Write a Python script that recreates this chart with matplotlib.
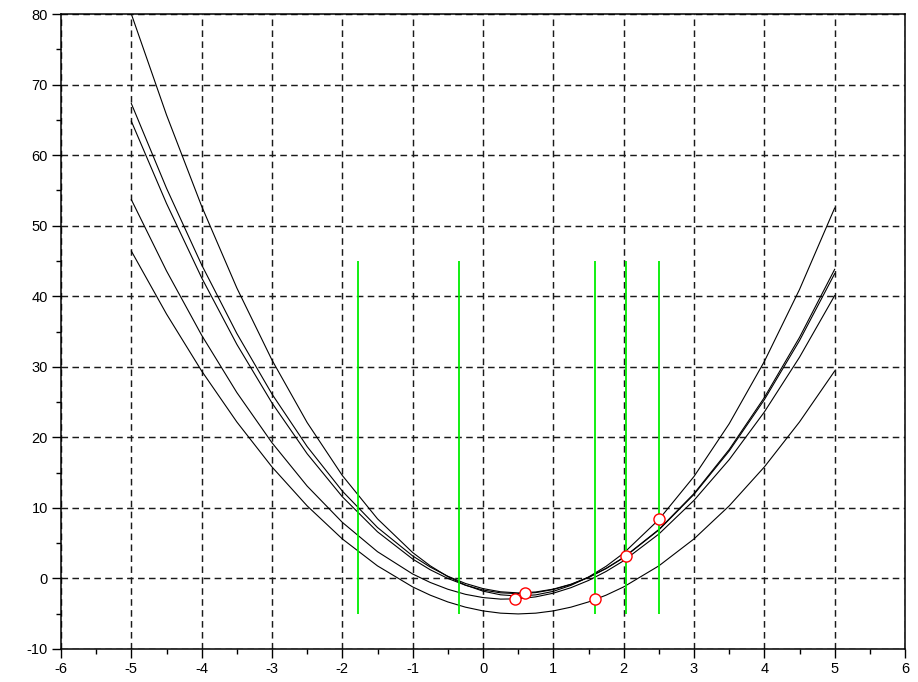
import numpy as np
import matplotlib
matplotlib.use("Agg")
import matplotlib.pyplot as plt
from matplotlib.ticker import MultipleLocator

plt.rcParams['font.family'] = ['Liberation Sans', 'DejaVu Sans']
plt.rcParams['axes.unicode_minus'] = False

# abscisses communes des cinq paraboles (plus serrees pres du minimum)
x = [-5.0, -4.5, -4.0, -3.5, -3.0, -2.5, -2.0, -1.5, -1.0, -0.75, -0.5, -0.25, 0.0,
     0.25, 0.5, 0.75, 1.0, 1.25, 1.5, 1.75, 2.0, 2.5, 3.0, 3.5, 4.0, 4.5, 5.0]

courbe_a = [80.0, 65.70, 52.75, 41.17, 30.95, 22.09, 14.59, 8.45, 3.67, 1.79, 0.26, -0.94, -1.80,
            -2.32, -2.49, -2.33, -1.83, -0.98, 0.20, 1.72, 3.59, 8.34, 14.45, 21.92, 30.75, 40.95, 52.5]
courbe_b = [67.31, 55.31, 44.44, 34.72, 26.13, 18.69, 12.38, 7.22, 3.19, 1.61, 0.31, -0.71, -1.44,
            -1.89, -2.05, -1.92, -1.51, -0.82, 0.17, 1.43, 2.98, 6.94, 12.03, 18.27, 25.64, 34.16, 43.81]
courbe_c = [64.80, 53.15, 42.61, 33.18, 24.87, 17.67, 11.58, 6.61, 2.75, 1.23, 0.00, -0.96, -1.64,
            -2.04, -2.16, -2.01, -1.57, -0.86, 0.13, 1.40, 2.94, 6.87, 11.91, 18.06, 25.33, 33.71, 43.20]
courbe_d = [53.69, 43.59, 34.47, 26.35, 19.23, 13.09, 7.95, 3.79, 0.63, -0.57, -1.53, -2.25, -2.71,
            -2.93, -2.89, -2.61, -2.09, -1.31, -0.29, 0.99, 2.51, 6.29, 11.07, 16.83, 23.59, 31.35, 40.09]
courbe_e = [46.4, 37.48, 29.4, 22.18, 15.8, 10.28, 5.6, 1.78, -1.2, -2.37, -3.33, -4.07, -4.6,
            -4.92, -5.03, -4.92, -4.6, -4.07, -3.33, -2.37, -1.2, 1.78, 5.6, 10.28, 15.8, 22.18, 29.4]

# droites verticales vertes (de -5 a 45)
x_vert = [-1.777, -0.341, 1.592, 2.033, 2.507]
y_vert_bas, y_vert_haut = -5, 45

# points rouges
x_pts = [0.455, 0.597, 1.592, 2.033, 2.507]
y_pts = [-2.92, -2.02, -2.92, 3.17, 8.42]

fig = plt.figure(figsize=(9.18, 6.82), dpi=100)
ax = fig.add_axes([61/918, 1-649/682, (905-61)/918, (649-14)/682])

ax.grid(True, which='major', color='#1a1a1a', linestyle=(0, (4.5, 3)), linewidth=1.05, zorder=0)
ax.set_axisbelow(True)

for c in [courbe_a, courbe_b, courbe_c, courbe_d, courbe_e]:
    ax.plot(x, c, color='black', linewidth=0.8, zorder=2)

ax.vlines(x_vert, y_vert_bas, y_vert_haut, colors='#00ee00', linewidth=1.3, zorder=3)
ax.plot(x_pts, y_pts, linestyle='none', marker='o', markersize=8,
        markerfacecolor='white', markeredgecolor='red', markeredgewidth=1.0, zorder=4)

ax.set_xlim(-6, 6)
ax.set_ylim(-10, 80)
ax.xaxis.set_major_locator(MultipleLocator(1))
ax.xaxis.set_minor_locator(MultipleLocator(0.5))
ax.yaxis.set_major_locator(MultipleLocator(10))
ax.yaxis.set_minor_locator(MultipleLocator(5))
ax.tick_params(which='major', direction='out', length=6.5, width=1.0, labelsize=10.5, pad=3)
ax.tick_params(which='minor', direction='out', length=3.5, width=1.0)
for s in ax.spines.values():
    s.set_linewidth(1.1)

fig.savefig("out.png", dpi=100)
